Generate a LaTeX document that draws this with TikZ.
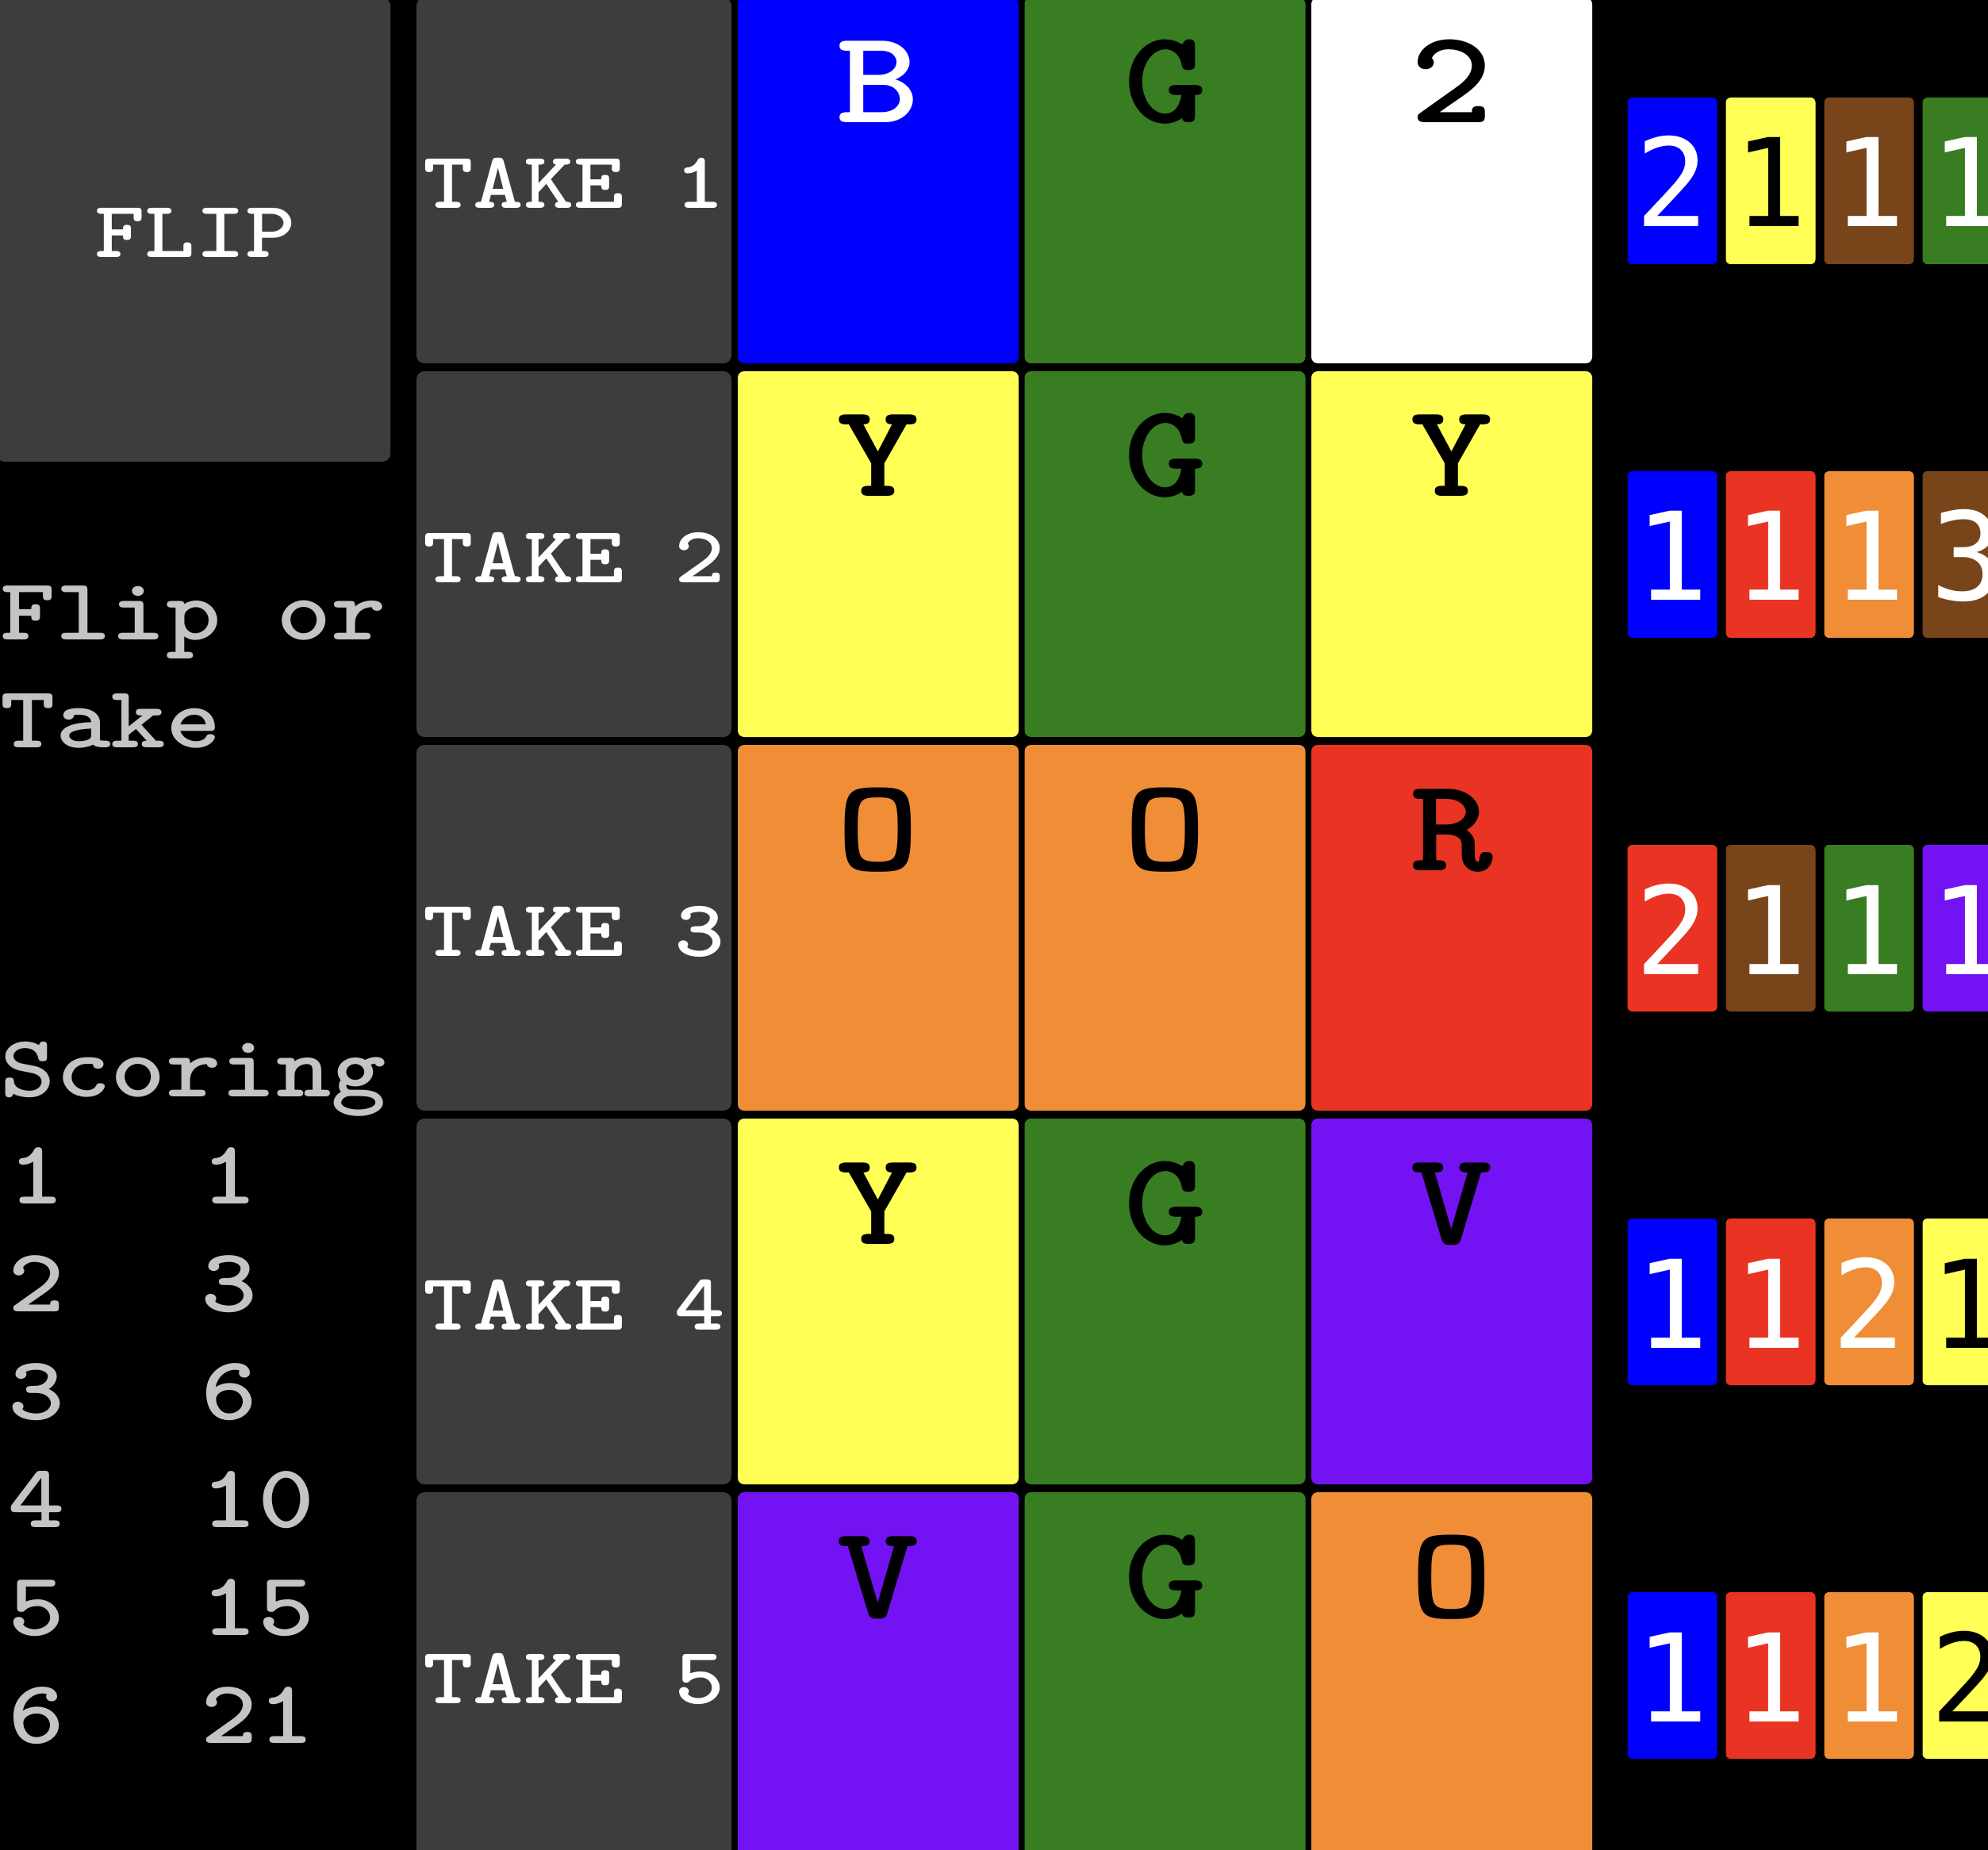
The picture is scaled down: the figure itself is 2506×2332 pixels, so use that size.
\documentclass[tikz,border=0pt]{standalone}
\usepackage{fontspec}
\newfontfamily\cour[FakeStretch=1.19]{lmmonolt10-bold.otf}
\newfontfamily\dvm{DejaVu Sans Mono}
\definecolor{boxgray}{HTML}{3D3D3D}
\definecolor{txtgray}{HTML}{C4C4C4}
\definecolor{tblue}{HTML}{0000FF}
\definecolor{tgreen}{HTML}{387D22}
\definecolor{tyellow}{HTML}{FFFF55}
\definecolor{torange}{HTML}{EF8E37}
\definecolor{tred}{HTML}{E93423}
\definecolor{tpurple}{HTML}{7313F3}
\definecolor{tbrown}{HTML}{774519}
\definecolor{twhite}{HTML}{FFFFFF}
\begin{document}
\begin{tikzpicture}[x=0.25pt,y=-0.25pt,
  panel/.style={fill=boxgray,draw=none,rounded corners=2.5pt,inner sep=0pt,outer sep=0pt,anchor=north west},
  tilebox/.style={draw=none,rounded corners=2pt,inner sep=0pt,outer sep=0pt,anchor=north west,minimum width=88.5pt,minimum height=115.25pt},
  tallybox/.style={draw=none,rounded corners=1.5pt,inner sep=0pt,outer sep=0pt,anchor=north west,minimum width=28.25pt,minimum height=52.5pt},
  panellbl/.style={font=\cour\fontsize{25.4pt}{30pt}\selectfont,text=white,anchor=base,inner sep=0pt},
  tilelbl/.style={font=\cour\fontsize{42pt}{50pt}\selectfont,anchor=base,inner sep=0pt},
  tallylbl/.style={font=\dvm\fontsize{38.5pt}{42pt}\selectfont,anchor=base,inner sep=0pt},
  sidelbl/.style={font=\cour\fontsize{27.8pt}{34pt}\selectfont,text=txtgray,anchor=base west,inner sep=0pt},
  scorelbl/.style={font=\cour\fontsize{28.5pt}{34pt}\selectfont,text=txtgray,anchor=base west,inner sep=0pt}
]
\useasboundingbox (0,0) rectangle (2506,2332);
\clip (0,0) rectangle (2506,2332);
\fill[black] (0,0) rectangle (2506,2332);

% FLIP panel
\node[panel,minimum width=124pt,minimum height=146.25pt] (flip) at (-4,-3) {};
\node[panellbl] (fliplbl) at (246,325) {FLIP};

% side texts
\node[sidelbl] (flipor) at (0,806) {Flip or};
\node[sidelbl] (take) at (0,942) {Take};
\node[sidelbl] (scoring) at (0,1382) {Scoring};
\foreach \n/\s [count=\k from 0] in {1/1,2/3,3/6,4/10,5/15,6/21} {
  \node[scorelbl] (scn\n) at (10,1517+136*\k) {\n};
  \node[scorelbl] (scs\n) at (253,1517+136*\k) {\s};
}

% TAKE panels
\foreach \r/\top in {1/-3,2/468,3/939,4/1410,5/1881} {
  \node[panel,minimum width=99.25pt,minimum height=115.25pt] (take\r) at (525,\top) {};
  \node[panellbl] (takelbl\r) at (723.5,\top+266) {TAKE \r};
}

% tiles
\foreach \r/\top/\spec in {
  1/-3/{B/tblue/white,G/tgreen/black,2/twhite/black},
  2/468/{Y/tyellow/black,G/tgreen/black,Y/tyellow/black},
  3/939/{O/torange/black,O/torange/black,R/tred/black},
  4/1410/{Y/tyellow/black,G/tgreen/black,V/tpurple/black},
  5/1881/{V/tpurple/black,G/tgreen/black,O/torange/black}} {
  \foreach \l/\fc/\tc [count=\c from 0] in \spec {
    \node[tilebox,fill=\fc] (tile-\r-\c) at (930+361.5*\c,\top) {};
    \node[tilelbl,text=\tc] (tilelbl-\r-\c) at (1107+361.5*\c,\top+158) {\l};
  }
}

% tallies
\foreach \r/\top/\spec in {
  1/123/{2/tblue/white,1/tyellow/black,1/tbrown/white,1/tgreen/white},
  2/594/{1/tblue/white,1/tred/white,1/torange/white,3/tbrown/white},
  3/1065/{2/tred/white,1/tbrown/white,1/tgreen/white,1/tpurple/white},
  4/1536/{1/tblue/white,1/tred/white,2/torange/white,1/tyellow/black},
  5/2007/{1/tblue/white,1/tred/white,1/torange/white,2/tyellow/black}} {
  \foreach \l/\fc/\tc [count=\c from 0] in \spec {
    \node[tallybox,fill=\fc] (tally-\r-\c) at (2051.5+124*\c,\top) {};
    \node[tallylbl,text=\tc] (tallylbl-\r-\c) at (2108+124*\c,\top+163) {\l};
  }
}
\end{tikzpicture}
\end{document}
